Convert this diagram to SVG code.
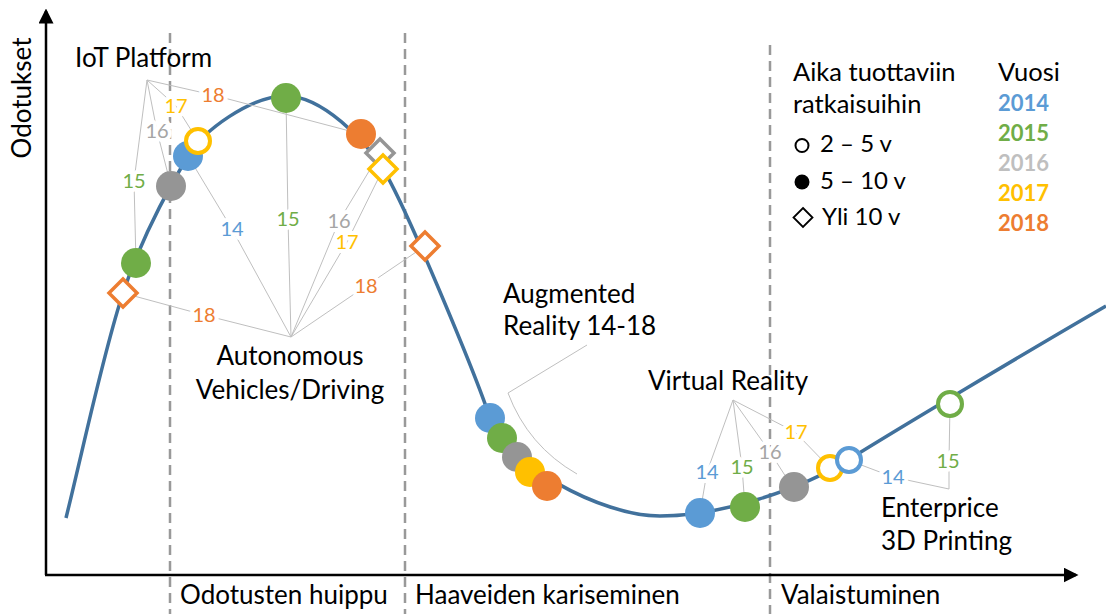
<svg xmlns="http://www.w3.org/2000/svg" width="1106" height="614" viewBox="0 0 1106 614">
<defs>
<style>
text{font-family:Lato,"Liberation Sans",sans-serif;fill:#000}
.big{font-size:26px}
.leg{font-size:24px}
.num{font-size:20px;paint-order:stroke;stroke:#fff;stroke-width:8px;stroke-linejoin:round}
.yr{font-size:22px;font-weight:bold}
.lead{fill:none;stroke:#BFBFBF;stroke-width:1}
.dash{stroke:#999;stroke-width:2.5;stroke-dasharray:10 6;fill:none}
.c14{fill:#5B9BD5}.c15{fill:#70AD47}.c16{fill:#959595}.c17{fill:#FFC000}.c18{fill:#ED7D31}
.t14{fill:#5B9BD5}.t15{fill:#70AD47}.t16{fill:#A5A5A5}.t17{fill:#FFC000}.t18{fill:#ED7D31}
.o14{fill:#fff;stroke:#5B9BD5;stroke-width:4}.o15{fill:#fff;stroke:#70AD47;stroke-width:4}.o17{fill:#fff;stroke:#FFC000;stroke-width:4}
.d16{fill:#fff;stroke:#959595;stroke-width:3.5}.d17{fill:#fff;stroke:#FFC000;stroke-width:3.5}.d18{fill:#fff;stroke:#ED7D31;stroke-width:3.5}
</style>
<marker id="arr" markerWidth="6" markerHeight="6" refX="5" refY="3" orient="auto" markerUnits="strokeWidth"><path d="M0,0 L6,3 L0,6 Z" fill="#000"/></marker>
<path id="dia" d="M0,-14 L14,0 L0,14 L-14,0 Z"/>
</defs>

<g id="phases">
<line class="dash" x1="170" y1="33" x2="170" y2="614"/>
<line class="dash" x1="405" y1="33" x2="405" y2="614"/>
<line class="dash" x1="770" y1="45" x2="770" y2="614"/>
</g>

<g id="axes">
<line x1="46" y1="575" x2="46" y2="11" stroke="#000" stroke-width="2.5" marker-end="url(#arr)"/>
<line x1="45" y1="575" x2="1076" y2="575" stroke="#000" stroke-width="2.5" marker-end="url(#arr)"/>
<text class="big" transform="translate(31,98) rotate(-90)" text-anchor="middle">Odotukset</text>
<text class="big" x="180" y="604">Odotusten huippu</text>
<text class="big" x="415" y="604">Haaveiden kariseminen</text>
<text class="big" x="781" y="604">Valaistuminen</text>
</g>

<g id="curve">
<path d="M66,518 C84,445 104,350 123,293 C142,236 173,181 188,156 C203,131 250,96 286,96 C322,96 365,140 383,169 C405,204 475,373 490,418 C505,463 600,516 660,516 C720,516 800,490 848,460 C896,430 1030,350 1106,306" fill="none" stroke="#41719C" stroke-width="3.5"/>
</g>

<g id="connectors">
<polyline class="lead" points="147,80 134,181 136,263"/>
<polyline class="lead" points="147,80 157,131 171,186"/>
<polyline class="lead" points="147,80 176,106 198,141"/>
<polyline class="lead" points="147,80 213,95 361,134"/>
<polyline class="lead" points="123,293 204,315 291,337"/>
<polyline class="lead" points="188,156 232,229 291,337"/>
<polyline class="lead" points="286,98 288,219 291,337"/>
<polyline class="lead" points="380,153 339,221 291,337"/>
<polyline class="lead" points="383,169 347,242 291,337"/>
<polyline class="lead" points="425,246 366,286 291,337"/>
<path class="lead" d="M587,345 L508,393 Q528,446 577,474"/>
<polyline class="lead" points="733,400 707,472 700,513"/>
<polyline class="lead" points="733,400 742,467 745,507"/>
<polyline class="lead" points="733,400 770,452 793,488"/>
<polyline class="lead" points="733,400 795,432 830,468"/>
<polyline class="lead" points="848,460 893,477 949,489 949,461 950,404"/>
</g>

<g id="iot-platform">
<text class="big" x="75" y="67">IoT Platform</text>
<circle class="c15" cx="136" cy="263" r="15"/>
<circle class="c16" cx="171" cy="186" r="15"/>
<circle class="c14" cx="188" cy="156" r="15"/>
<circle class="o17" cx="198" cy="141" r="12"/>
<circle class="c18" cx="361" cy="134" r="15"/>
<text class="num t15" x="134" y="188" text-anchor="middle">15</text>
<text class="num t16" x="157" y="138" text-anchor="middle">16</text>
<text class="num t17" x="176" y="113" text-anchor="middle">17</text>
<text class="num t18" x="213" y="102" text-anchor="middle">18</text>
</g>

<g id="autonomous">
<text class="big" x="290" y="365" text-anchor="middle">Autonomous</text>
<text class="big" x="290" y="399" text-anchor="middle">Vehicles/Driving</text>
<use href="#dia" class="d18" x="123" y="293"/>
<circle class="c15" cx="286" cy="98" r="15"/>
<use href="#dia" class="d16" x="380" y="153"/>
<use href="#dia" class="d17" x="383" y="169"/>
<use href="#dia" class="d18" x="425" y="246"/>
<text class="num t18" x="204" y="322" text-anchor="middle">18</text>
<text class="num t14" x="232" y="236" text-anchor="middle">14</text>
<text class="num t15" x="288" y="226" text-anchor="middle">15</text>
<text class="num t16" x="339" y="228" text-anchor="middle">16</text>
<text class="num t17" x="347" y="249" text-anchor="middle">17</text>
<text class="num t18" x="366" y="293" text-anchor="middle">18</text>
</g>

<g id="augmented-reality">
<text class="big" x="503" y="303">Augmented</text>
<text class="big" x="503" y="335">Reality 14-18</text>
<circle class="c14" cx="490" cy="418" r="15"/>
<circle class="c15" cx="502" cy="438" r="15"/>
<circle class="c16" cx="517" cy="457" r="15"/>
<circle class="c17" cx="530" cy="472" r="15"/>
<circle class="c18" cx="547" cy="486" r="15"/>
</g>

<g id="virtual-reality">
<text class="big" x="648" y="390">Virtual Reality</text>
<circle class="c14" cx="700" cy="513" r="15"/>
<circle class="c15" cx="745" cy="507" r="15"/>
<circle class="c16" cx="794" cy="487" r="15"/>
<circle class="o17" cx="830" cy="468" r="12"/>
<text class="num t14" x="707" y="479" text-anchor="middle">14</text>
<text class="num t15" x="742" y="474" text-anchor="middle">15</text>
<text class="num t16" x="770" y="459" text-anchor="middle">16</text>
<text class="num t17" x="796" y="439" text-anchor="middle">17</text>
</g>

<g id="enterprise-3d-printing">
<text class="big" x="881" y="517">Enterprice</text>
<text class="big" x="881" y="550">3D Printing</text>
<circle class="o14" cx="849" cy="460" r="12"/>
<circle class="o15" cx="950" cy="404" r="12"/>
<text class="num t14" x="893" y="484" text-anchor="middle">14</text>
<text class="num t15" x="948" y="468" text-anchor="middle">15</text>
</g>

<g id="legend-time">
<text class="big" x="793" y="81" style="font-size:25.5px">Aika tuottaviin</text>
<text class="big" x="793" y="113" style="font-size:25.5px">ratkaisuihin</text>
<circle cx="802" cy="145.5" r="6.5" fill="#fff" stroke="#000" stroke-width="2"/>
<text class="leg" x="820" y="152">2 – 5 v</text>
<circle cx="802" cy="182" r="7.5" fill="#000"/>
<text class="leg" x="820" y="189">5 – 10 v</text>
<path d="M803,208 L812.5,217.5 L803,227 L793.5,217.5 Z" fill="#fff" stroke="#000" stroke-width="1.8"/>
<text class="leg" x="822" y="225">Yli 10 v</text>
</g>

<g id="legend-year">
<text class="big" x="998" y="81" style="font-size:25.5px">Vuosi</text>
<text class="yr" x="998" y="111" style="fill:#5B9BD5">2014</text>
<text class="yr" x="998" y="141" style="fill:#70AD47">2015</text>
<text class="yr" x="998" y="171" style="fill:#BFBFBF">2016</text>
<text class="yr" x="998" y="201" style="fill:#FFC000">2017</text>
<text class="yr" x="998" y="231" style="fill:#ED7D31">2018</text>
</g>
</svg>
